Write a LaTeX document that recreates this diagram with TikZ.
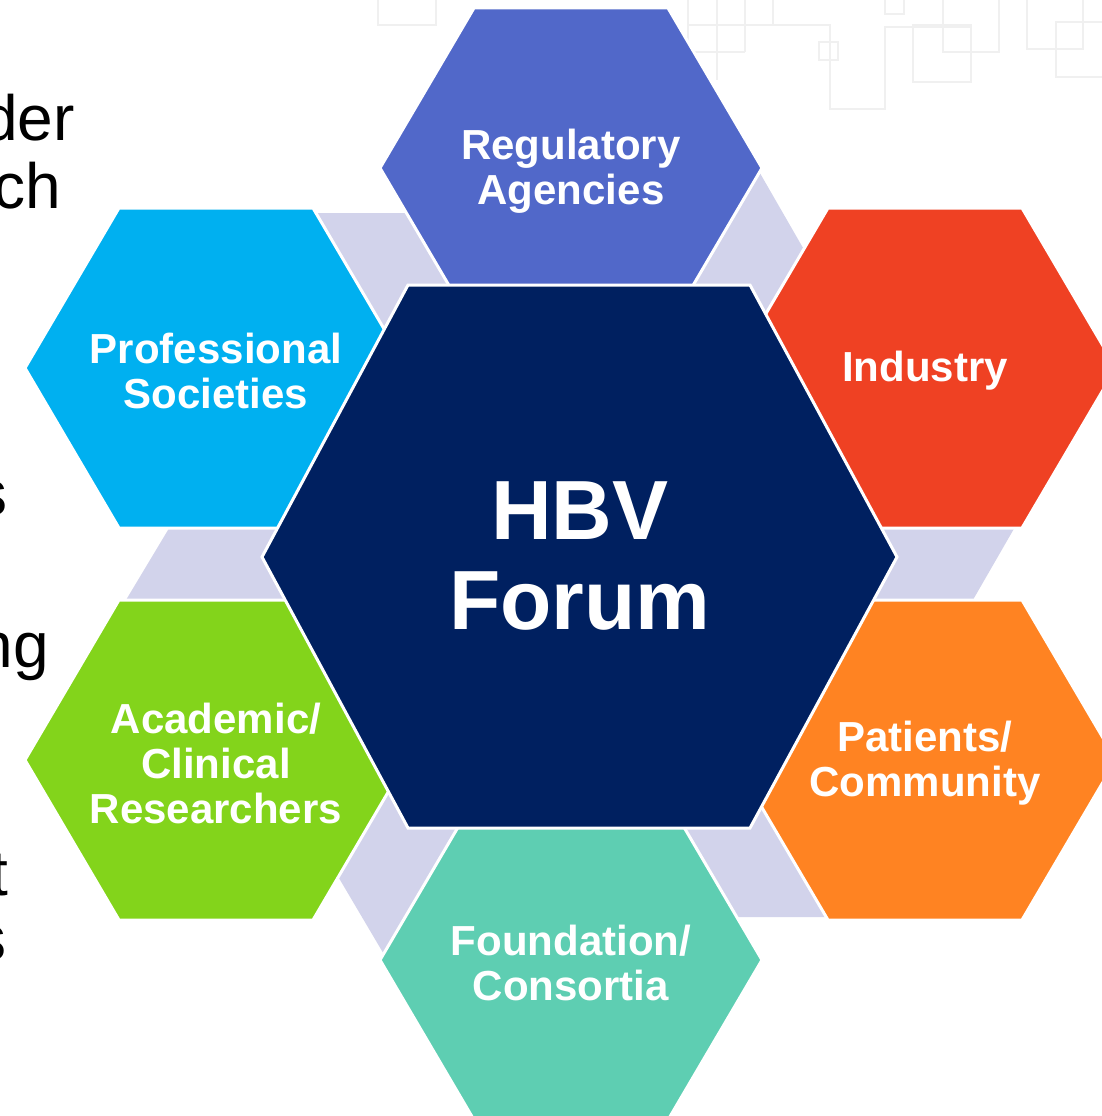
\documentclass[tikz,border=0pt]{standalone}
\usepackage{fontspec}
\setmainfont{Liberation Sans}
\definecolor{regc}{HTML}{5168C9}
\definecolor{indc}{HTML}{EF4123}
\definecolor{patc}{HTML}{FF8322}
\definecolor{fndc}{HTML}{5ECEB2}
\definecolor{acac}{HTML}{83D41B}
\definecolor{proc}{HTML}{00B0F0}
\definecolor{hbvc}{HTML}{002060}
\definecolor{lavc}{HTML}{D2D3EB}
\definecolor{bggray}{HTML}{F0F0F0}
\newcommand\myhex[3]{\path[outerhex,fill=#3] ({#1-191},#2) -- ({#1-97},{#2-160}) -- ({#1+97},{#2-160}) -- ({#1+191},#2) -- ({#1+97},{#2+160}) -- ({#1-97},{#2+160}) -- cycle;}
\begin{document}
\begin{tikzpicture}[x=1pt,y=-1pt,
  hexlab/.style={text=white,font=\fontsize{42}{45}\selectfont\bfseries,align=center,inner sep=0pt,yshift=-3pt},
  biglab/.style={text=white,font=\fontsize{84}{90}\selectfont\bfseries,align=center,inner sep=0pt},
  lefttxt/.style={text=black,font=\fontsize{64}{70}\selectfont,inner sep=0pt,anchor=base east},
  lav/.style={fill=lavc},
  outerhex/.style={draw=white,line width=3pt,line join=miter},
  bgsq/.style={draw=bggray,line width=1.5pt}]
\useasboundingbox[fill=white] (0,0) rectangle (1102,1116);
% faint background squares
\draw[bgsq] (688,0) -- (688,80);
\draw[bgsq] (717,0) -- (717,80);
\draw[bgsq] (745,0) -- (745,52);
\draw[bgsq] (688,25) -- (830,25) -- (830,109) -- (885,109) -- (885,27) -- (970,27);
\draw[bgsq] (688,52) -- (745,52);
\draw[bgsq] (773,0) -- (773,25);
\draw[bgsq] (819,42) rectangle (838,60);
\draw[bgsq] (885,-5) rectangle (904,14);
\draw[bgsq] (913,25) rectangle (971,82);
\draw[bgsq] (943,0) -- (943,52) -- (999,52) -- (999,0);
\draw[bgsq] (1027,0) -- (1027,49) -- (1083,49) -- (1083,0);
\draw[bgsq] (1056,22) rectangle (1110,77);
\draw[bgsq] (378,-5) rectangle (436,25);
% lavender connectors
\path[lav] (290,213) -- (430,213) -- (470,345) -- (350,345) -- cycle;
\path[lav] (757,168) -- (856,340) -- (690,340) -- (690,190) -- cycle;
\path[lav] (850,520) -- (1019,520) -- (970,605) -- (850,605) -- cycle;
\path[lav] (640,800) -- (800,800) -- (850,917) -- (720,917) -- cycle;
\path[lav] (287,790) -- (520,790) -- (520,973) -- (395,973) -- cycle;
\path[lav] (174,520) -- (300,520) -- (300,605) -- (123,605) -- cycle;
% outer hexagons
\myhex{571}{168}{regc}
\myhex{925}{368}{indc}
\myhex{925}{760}{patc}
\myhex{571}{960}{fndc}
\myhex{216}{760}{acac}
\myhex{216}{368}{proc}
% central hexagon
\path[outerhex,fill=hbvc] (262,557) -- (408,285) -- (750,285) -- (897,557) -- (750,828) -- (408,828) -- cycle;
% labels
\node[hexlab] (reg) at (571,168) {Regulatory\\Agencies};
\node[hexlab] (ind) at (925,368) {Industry};
\node[hexlab] (pat) at (925,760) {Patients/\\Community};
\node[hexlab] (fnd) at (571,960) {Foundation/\\Consortia};
\node[hexlab] (aca) at (216,760) {Academic/\\Clinical\\Researchers};
\node[hexlab] (pro) at (216,368) {Professional\\Societies};
\node[biglab] (hbv) at (580,556) {HBV\\Forum};
% cut-off text on the left
\node[lefttxt] (l1) at (75,140) {der};
\node[lefttxt] (l2) at (61,208) {ch};
\node[lefttxt] (l3) at (8,515) {s};
\node[lefttxt] (l4) at (49,667) {ng};
\node[lefttxt] (l5) at (8,895) {t};
\node[lefttxt] (l6) at (7,960) {s};
\end{tikzpicture}
\end{document}
